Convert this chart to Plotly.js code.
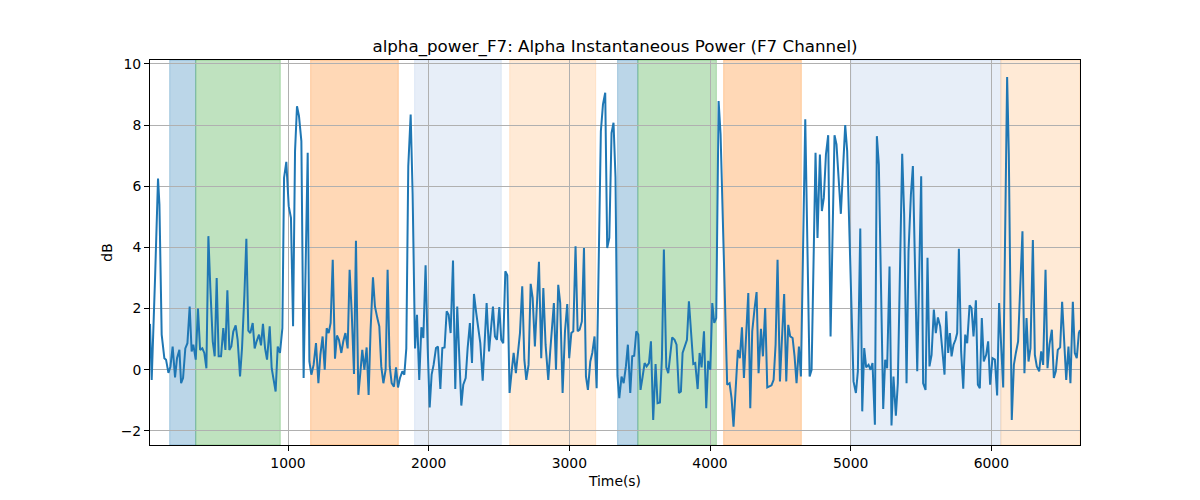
<!DOCTYPE html>
<html>
<head>
<meta charset="utf-8">
<script src="https://cdn.plot.ly/plotly-3.0.1.min.js"></script>
<style>html,body{margin:0;padding:0;background:#fff;}#chart{width:1200px;height:500px;}</style>
</head>
<body>
<div id="chart"></div>
<script>
// Time stamps (s)
const timeSec = [
19,31,55,76,86,102,121,133,150,164,180,197,211,228,240,254,270,285,301,315,327,344,360,375,391,405,420,434,448,465,479,493,507,524,540,555,569,583,597,611,628,642,659,673,690,704,718,732,749,763,777,794,808,822,837,851,870,884,898,912,927,943,
960,972,988,1005,1021,1036,1050,1064,1078,1095,1111,1140,1152,1166,1182,1199,1216,1230,1246,1261,1275,1289,1303,1318,1334,1348,1362,1379,1393,1408,1424,1438,1453,1469,1483,1500,1514,1528,1543,1559,1573,1587,1604,1618,1635,1649,1663,1678,1694,1708,1723,1737,1753,1768,1782,1796,1813,1827,1841,1855,1872,1886,1903,
1917,1933,1948,1962,1978,1993,2007,2021,2035,2052,2066,2083,2097,2113,2128,2142,2156,2173,2189,2203,2218,2232,2246,2263,2277,2293,2308,2322,2338,2353,2367,2384,2398,2412,2429,2443,2457,2471,2485,2502,2516,2530,2545,2559,2575,2590,2604,2620,2635,2649,2665,2680,2694,2710,2725,2739,2755,2770,2784,2800,2815,2831,
2850,2864,2876,2890,2905,2921,2935,2952,2969,2985,2999,3014,3028,3044,3059,3073,3089,3104,3118,3132,3149,3163,3179,3194,3224,3239,3255,3269,3284,3300,3314,3328,3342,3355,3371,3386,3402,3416,3433,3447,3461,3476,3490,3506,3521,3535,3549,3566,3580,3596,3613,3627,3644,3658,3672,3689,3703,3717,3731,3748,3762,3779,3793,
3805,3819,3836,3850,3867,3881,3895,3912,3926,3940,3957,3973,3987,4002,4016,4030,4044,4061,4075,4122,4139,4153,4167,4182,4198,4212,4227,4241,4257,4272,4286,4300,4317,4331,4345,4362,4376,4392,4407,4423,4437,4452,4466,4480,4497,4511,4527,4542,4556,4570,4587,4601,4615,4632,4646,4677,4691,4708,4722,
4750,4764,4781,4795,4809,4824,4840,4857,4885,4899,4916,4930,4947,4961,4975,5020,5037,5051,5068,5082,5096,5110,5127,5141,5155,5172,5186,5200,5231,5245,5259,5276,5290,5304,5321,5335,5366,5380,5397,5411,5428,5442,5473,5501,5515,5532,5546,5560,5575,5591,5605,5620,5636,5650,5667,5679,
5693,5705,5717,5731,5745,5757,5769,5785,5800,5814,5828,5845,5859,5873,5890,5904,5918,5932,5946,5963,5977,5991,6008,6025,6041,6055,6070,6084,6112,6124,6145,6160,6174,6190,6205,6221,6235,6250,6264,6278,6295,6309,6323,6340,6354,6368,6385,6399,6413,6430,6444,6458,6472,6489,6503,6517,6532,6548,6562,6579,6593,6607,6622,6630
];
// Alpha instantaneous power (dB)
const alphaPowerDb = [
1.5,-0.33,3.0,6.25,5.4,1.15,0.38,0.33,-0.1,0.1,0.76,-0.25,0.38,0.65,-0.44,-0.27,0.7,0.87,2.07,0.6,0.82,0.33,2.0,0.65,0.7,0.55,0.05,4.37,2.67,0.93,0.44,3.0,0.44,0.44,1.36,0.65,2.6,0.65,0.76,1.25,1.45,0.98,-0.22,0.7,2.45,4.28,1.28,1.2,1.53,0.7,0.93,1.15,0.8,1.5,0.7,0.33,1.42,0.05,-0.33,-0.71,0.76,0.55,
1.36,6.28,6.8,5.35,4.97,1.42,7.15,8.62,8.3,7.48,-0.27,7.1,0.27,-0.16,0.16,0.87,-0.44,0.49,1.09,0,1.36,1.2,1.53,3.6,0.36,1.12,0.98,0.55,0.93,1.2,0.7,3.27,1.86,-0.14,4.22,-0.82,-0.11,0.65,0,0.73,-0.82,1.31,3.02,2.07,1.69,1.42,0.11,-0.44,0,3.27,0.11,-0.44,-0.55,0.08,-0.58,-0.27,-0.05,-0.16,0.7,6.66,8.35,5.73,0.7,
1.8,-0.33,1.39,1.04,3.42,0.71,-1.23,-0.16,0.16,0.71,0.76,-0.63,0.71,0.73,1.91,1.8,1.2,3.57,-0.63,2.07,0.49,-1.17,-0.49,-0.27,0.71,1.53,0.22,2.48,1.86,1.42,0.87,-0.36,0.76,2.18,0.6,1.26,2.07,1.09,0.98,2.05,0.98,0.87,3.22,3.09,-0.76,-0.05,0.55,-0.11,0.71,1.2,2.73,0.33,-0.33,0.16,2.81,2.35,0.76,2.07,3.53,0.38,2.67,0.82,
-0.33,0.6,1.47,2.18,0,2.78,2.18,-0.76,1.26,2.15,0.38,1.2,1.26,4.04,1.26,1.31,1.58,3.98,-0.22,-0.66,0.27,0.55,1.09,-0.6,7.8,8.68,9.06,3.98,4.31,7.75,8.08,6.3,-0.2,-0.93,-0.22,-0.44,0.11,0.82,-0.76,0.44,0.46,1.26,1.15,-0.66,-0.22,0.22,0.11,0.22,0.93,-1.64,0.19,-1.09,-1.07,0.38,3.93,0.08,-0.11,0.6,1.06,0.98,0.82,-0.76,-0.71,
0.55,0.73,0.98,2.24,1.15,0.19,0.22,-0.63,0.55,0.08,1.26,-1.26,0.29,0,2.18,1.53,1.69,8.79,7.7,-0.49,-0.44,-0.93,-1.86,-0.44,0.65,0.38,1.39,-0.27,1.26,2.51,-1.26,1.26,2.02,2.54,-0.11,1.34,0.44,2.02,-0.58,-0.55,-0.51,-0.33,0.82,3.6,-0.38,0.98,2.48,-0.38,1.47,1.09,1.04,0.44,-0.44,0.76,-0.22,8.19,4.86,-0.22,0,
7.1,4.31,7.04,5.19,5.62,7.04,7.67,1.09,7.67,7.37,6.17,5.1,6.71,8.0,7.15,-0.38,-0.76,-0.05,4.62,-1.36,0.71,0.08,0.16,0,0.22,-1.8,7.64,6.71,-1.28,0.33,0.05,3.38,-1.82,-0.22,-1.5,-0.44,7.06,5.08,-0.44,3.88,5.73,6.66,-0.05,6.33,-0.44,-0.66,3.66,0.11,0.49,1.97,1.2,1.71,1.42,0.71,-0.16,1.91,
0.55,1.2,0.44,0.82,0.98,1.2,3.96,0.6,-0.62,1.15,0.87,2.11,2.02,1.09,2.27,-0.49,-0.6,1.69,0.27,0.49,0.93,-0.49,0.38,0.33,-0.84,2.18,0.55,-0.58,9.57,7.04,-1.64,0.16,0.55,0.93,2.67,4.53,-0.11,1.69,0.27,0.71,4.24,0.49,0.11,-0.05,0.6,0.16,3.27,0.05,0.82,1.31,-0.27,-0.05,0.65,0.73,2.22,0.82,-0.33,0.76,-0.44,2.22,0.55,0.38,1.2,1.3
];
// Shaded phases (start, end in seconds) and their kind
const phaseStart = [159, 344, 1161, 1900, 2576, 3343, 3487, 4097, 5001, 6067];
const phaseEnd   = [344, 945, 1784, 2516, 3187, 3487, 4045, 4649, 6067, 6630];
const phaseKind  = ["blue","green","orange","lightblue","lightorange","blue","green","orange","lightblue","lightorange"];
const xTicks = [1000, 2000, 3000, 4000, 5000, 6000];
const yTicks = [-2, 0, 2, 4, 6, 8, 10];

const kindColor = {
  blue: "rgba(31,119,180,0.3)",
  green: "rgba(44,160,44,0.3)",
  orange: "rgba(255,127,14,0.3)",
  lightblue: "rgba(174,199,232,0.3)",
  lightorange: "rgba(255,187,120,0.3)"
};

const shapes = phaseStart.map((s, i) => ({
  type: "rect", xref: "x", yref: "paper",
  x0: s, x1: phaseEnd[i], y0: 0, y1: 1,
  fillcolor: kindColor[phaseKind[i]],
  line: {color: kindColor[phaseKind[i]], width: 1},
  layer: "below"
}));

const trace = {
  x: timeSec, y: alphaPowerDb, type: "scatter", mode: "lines",
  line: {color: "#1f77b4", width: 2}, hoverinfo: "skip"
};

const font = {family: "DejaVu Sans, sans-serif", size: 13.9, color: "#000"};
const layout = {
  width: 1200, height: 500,
  margin: {l: 150, r: 120, t: 60, b: 55},
  paper_bgcolor: "#fff", plot_bgcolor: "#fff",
  font: font,
  showlegend: false,
  title: {text: "alpha_power_F7: Alpha Instantaneous Power (F7 Channel)",
          font: {family: "DejaVu Sans, sans-serif", size: 16.7, color: "#000"},
          x: 0.5, xref: "paper", y: 1 - 46/500, yref: "container", yanchor: "middle"},
  xaxis: {
    range: [19, 6630], tickvals: xTicks, ticktext: xTicks.map(String),
    showgrid: true, gridcolor: "#b0b0b0", gridwidth: 1,
    zeroline: false, showline: true, mirror: true, linecolor: "#000", linewidth: 1,
    ticks: "outside", ticklen: 5, tickcolor: "#000", tickwidth: 1,
    title: {text: "Time(s)", standoff: 6, font: font}
  },
  yaxis: {
    range: [-2.46, 10.13], tickvals: yTicks,
    showgrid: true, gridcolor: "#b0b0b0", gridwidth: 1,
    zeroline: false, showline: true, mirror: true, linecolor: "#000", linewidth: 1,
    ticks: "outside", ticklen: 5, tickcolor: "#000", tickwidth: 1,
    title: {text: "dB", standoff: 4, font: font}
  },
  shapes: shapes
};

Plotly.newPlot("chart", [trace], layout, {displayModeBar: false, staticPlot: true});
</script>
</body>
</html>
